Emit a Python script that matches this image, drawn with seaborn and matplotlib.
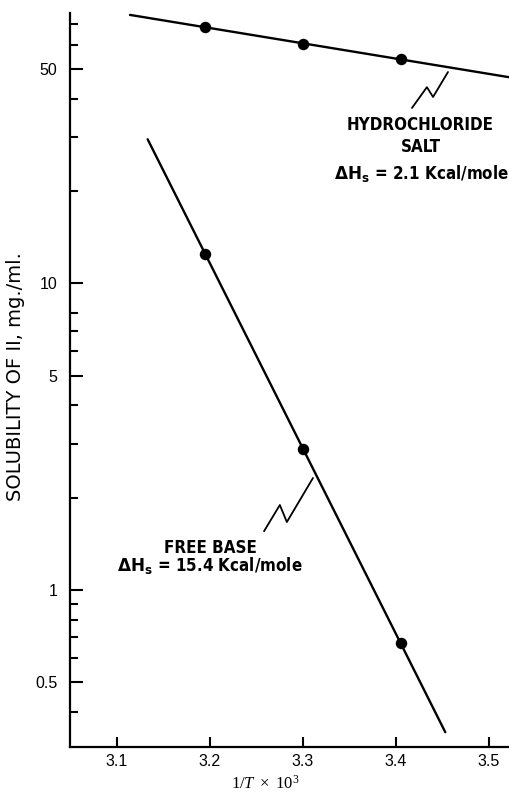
import numpy as np
import pandas as pd
import matplotlib
matplotlib.use("Agg")
import matplotlib.pyplot as plt
import seaborn as sns

# Solubility of compound II vs reciprocal temperature
inv_temp = [3.195, 3.30, 3.405]
salt_solubility = [68.6, 60.4, 53.9]
base_solubility = [12.46, 2.88, 0.670]

# x-range over which each fitted line is drawn
salt_span = [3.114, 3.522]
base_span = [3.133, 3.453]

major_yticks = [0.5, 1, 5, 10, 50]
major_ylabels = ["0.5", "1", "5", "10", "50"]
minor_yticks = [0.4, 0.6, 0.7, 0.8, 0.9, 2, 3, 4, 6, 7, 8, 20, 30, 40, 60, 70]
xticks = [3.1, 3.2, 3.3, 3.4, 3.5]

sns.set_style("ticks")
plt.rcParams["font.family"] = ["Liberation Sans", "DejaVu Sans"]
for key in ("text.color", "axes.labelcolor", "xtick.color", "ytick.color",
            "axes.edgecolor"):
    plt.rcParams[key] = "black"
plt.rcParams["mathtext.fontset"] = "custom"
plt.rcParams["mathtext.bf"] = "DejaVu Sans:bold"
plt.rcParams["mathtext.it"] = "Liberation Serif:italic"
plt.rcParams["mathtext.rm"] = "Liberation Serif"

fig = plt.figure(figsize=(5.09, 7.97), dpi=100)
ax = fig.add_axes([70 / 509, 50 / 797, 439 / 509, 734 / 797])
ax.set_yscale("log")


def fitted(xs, ys, span):
    k, b = np.polyfit(xs, np.log10(ys), 1)
    span = np.asarray(span)
    return pd.DataFrame({"x": span, "y": 10 ** (k * span + b)})


pts = pd.DataFrame({"x": inv_temp * 2,
                    "y": salt_solubility + base_solubility,
                    "form": ["salt"] * 3 + ["base"] * 3})

for ys, span in [(salt_solubility, salt_span), (base_solubility, base_span)]:
    line = fitted(inv_temp, ys, span)
    sns.lineplot(data=line, x="x", y="y", ax=ax, color="black", lw=1.7)

sns.scatterplot(data=pts, x="x", y="y", ax=ax, color="black", s=68,
                edgecolor="black", linewidth=0, legend=False, zorder=5)

ax.set_xlim(3.0495, 3.5215)
ax.set_ylim(0.307, 76.2)
ax.set_xticks(xticks)
ax.set_xticklabels([f"{t:.1f}" for t in xticks])
ax.set_yticks(major_yticks)
ax.set_yticklabels(major_ylabels)
ax.set_yticks(minor_yticks, minor=True)
ax.set_yticklabels([], minor=True)

ax.tick_params(axis="y", which="major", direction="in", length=9, width=1.5,
               labelsize=11.5, pad=9)
ax.tick_params(axis="y", which="minor", direction="in", length=6, width=1.5)
ax.tick_params(axis="x", which="major", direction="in", length=7, width=1.5,
               labelsize=11.5, pad=5)
ax.tick_params(axis="x", which="minor", bottom=False)

sns.despine(ax=ax)
for s in ("left", "bottom"):
    ax.spines[s].set_linewidth(1.6)

ax.set_ylabel("SOLUBILITY OF II, mg./ml.", fontsize=14,
              family=["DejaVu Sans"])
ax.yaxis.set_label_coords(-0.1025, 0.505)
ax.set_xlabel(r"$1/T\ \times\ 10^{3}$", fontsize=12)
ax.xaxis.set_label_coords(0.444, -0.036)

# leader zigzags to each curve
ax.plot([0.779, 0.813, 0.827, 0.861], [0.8706, 0.899, 0.8856, 0.9196],
        transform=ax.transAxes, color="black", lw=1.3)
ax.plot([0.442, 0.478, 0.494, 0.5535], [0.294, 0.3297, 0.3065, 0.3665],
        transform=ax.transAxes, color="black", lw=1.3)

lab = dict(transform=ax.transAxes, ha="center", va="center", fontsize=12.2,
           family="DejaVu Sans", stretch="condensed", weight="bold")
ax.text(0.797, 0.847, "HYDROCHLORIDE", **lab)
ax.text(0.799, 0.8174, "SALT", **lab)
ax.text(0.800, 0.782, r"$\mathbf{\Delta H_s}$ = 2.1 Kcal/mole", **lab)
ax.text(0.321, 0.271, "FREE BASE", **lab)
ax.text(0.319, 0.2466, r"$\mathbf{\Delta H_s}$ = 15.4 Kcal/mole", **lab)

fig.savefig("out.png", dpi=100)
